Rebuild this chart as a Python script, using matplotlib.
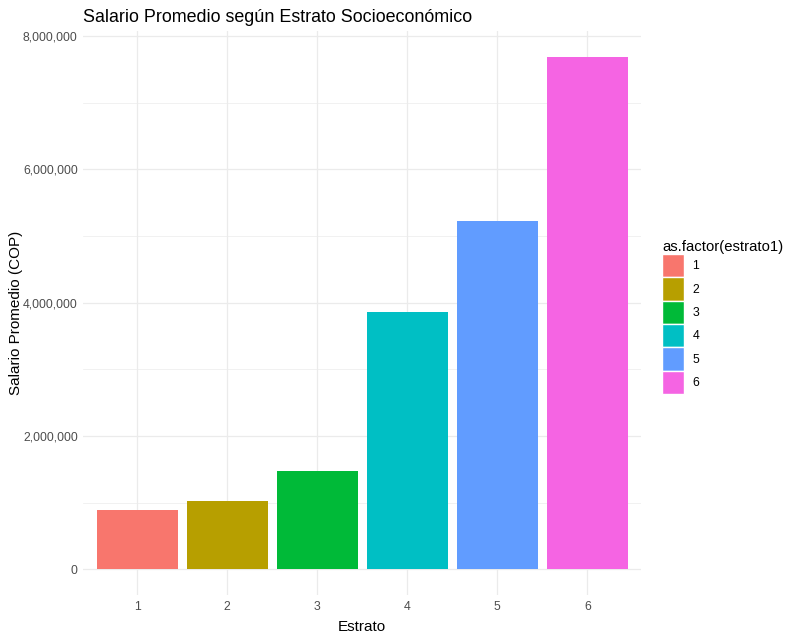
import matplotlib
matplotlib.use("Agg")
import matplotlib.pyplot as plt
from matplotlib.patches import Patch
from matplotlib.ticker import FuncFormatter, MultipleLocator

plt.rcParams['font.family'] = ['Liberation Sans', 'DejaVu Sans']

estratos = ["1", "2", "3", "4", "5", "6"]
salarios = [889000, 1025000, 1475000, 3860000, 5226000, 7690000]
colores = ["#F8766D", "#B79F00", "#00BA38", "#00BFC4", "#619CFF", "#F564E3"]
yticks = [0, 2000000, 4000000, 6000000, 8000000]

W, H = 804, 640
fig = plt.figure(figsize=(W/100, H/100), dpi=100)
left, right, top, bottom = 83.3, 641.3, 31.0, 595.0
ax = fig.add_axes([left/W, 1-bottom/H, (right-left)/W, (bottom-top)/H])

xpos = list(range(1, len(estratos)+1))
ax.bar(xpos, salarios, width=0.9, color=colores, zorder=3)

ymax = max(salarios)
ax.set_xlim(0.4, len(estratos)+0.6)
ax.set_ylim(-0.05*ymax, 1.05*ymax)
ax.set_xticks(xpos)
ax.set_xticklabels(estratos)
ax.set_yticks(yticks)
ax.yaxis.set_minor_locator(MultipleLocator(1000000))
ax.yaxis.set_major_formatter(FuncFormatter(lambda v, p: f"{int(v):,}"))

ax.grid(True, which='major', color='#EBEBEB', linewidth=0.9, zorder=0)
ax.grid(True, which='minor', axis='y', color='#EBEBEB', linewidth=0.5, zorder=0)
ax.set_axisbelow(True)
for s in ax.spines.values():
    s.set_visible(False)
ax.tick_params(which='both', length=0, labelsize=8.8, labelcolor='#4D4D4D', pad=4)

ax.set_xlabel("Estrato", fontsize=11, color='black')
ax.set_ylabel("Salario Promedio (COP)", fontsize=11, color='black')
ax.xaxis.set_label_coords(0.5, -(627-595)/(bottom-top))
ax.xaxis.label.set_va('center')
ax.yaxis.set_label_coords((16-left)/(right-left), 0.5)
ax.yaxis.label.set_va('center')
fig.text(left/W, 1-17/H, "Salario Promedio según Estrato Socioeconómico",
         fontsize=12.9, ha='left', va='center', color='black')

handles = [Patch(facecolor=c, edgecolor='white', linewidth=1.0) for c in colores]
leg = fig.legend(handles, estratos, loc='upper left',
                 bbox_to_anchor=(662/W, 1-240/H), frameon=False,
                 title="as.factor(estrato1)", title_fontsize=10.7, fontsize=8.8,
                 handlelength=1.8, handleheight=2.56, labelspacing=0.0,
                 handletextpad=0.7, borderpad=0.0, borderaxespad=0.0)
leg._legend_box.align = "left"

fig.savefig("out.png", dpi=100)
